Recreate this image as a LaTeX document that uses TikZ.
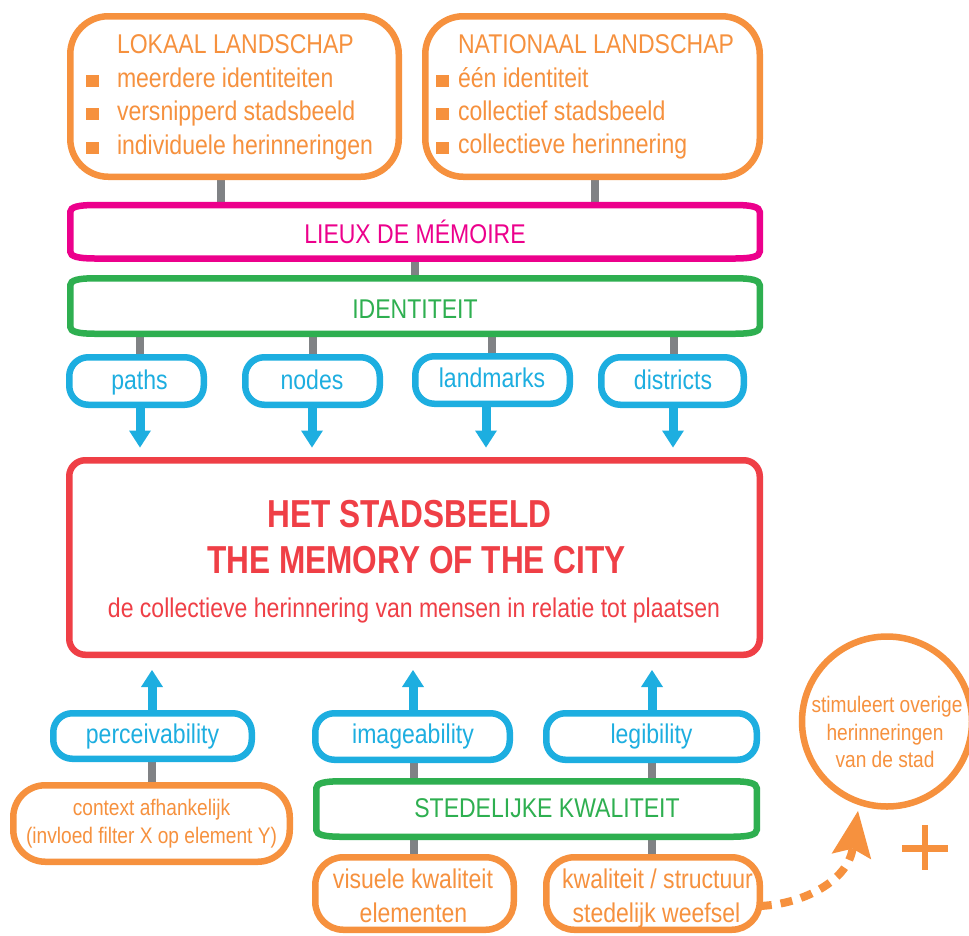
\documentclass[tikz,border=0pt]{standalone}
\usepackage{fontspec}
\setmainfont{Liberation Sans}[FakeStretch=0.85]
\newfontfamily\headfont{Liberation Sans}[FakeStretch=0.81]
\usetikzlibrary{arrows.meta,calc,backgrounds}

\definecolor{lorange}{HTML}{F6913E}
\definecolor{lmagenta}{HTML}{EC008C}
\definecolor{lgreen}{HTML}{2EAF50}
\definecolor{lblue}{HTML}{1DAEE0}
\definecolor{lred}{HTML}{EF3F46}
\definecolor{lgray}{HTML}{808285}

\tikzset{
  frame/.style={draw, line width=6.5pt, fill=white, inner sep=0pt, outer sep=0pt, rounded corners=#1},
  band/.style={draw=none, rectangle, inner sep=0pt, outer sep=0pt},
  txt/.style={inner sep=0pt, outer sep=0pt, anchor=base, font=\fontsize{27.1}{30}\selectfont},
  smalltxt/.style={inner sep=0pt, outer sep=0pt, anchor=base, font=\fontsize{22.5}{26}\selectfont},
  headtxt/.style={inner sep=0pt, outer sep=0pt, anchor=base, font=\headfont\bfseries\fontsize{39}{44}\selectfont},
  link/.style={draw=lgray, line width=8pt},
  flow/.style={draw=lblue, line width=9pt, -{Triangle[length=17pt,width=22pt,line width=0pt]}},
  dashflow/.style={draw=lorange, line width=8pt, dash pattern=on 12pt off 9pt,
    -{Stealth[length=46pt,width=40pt,inset=8pt,line width=0pt]}},
  bullet/.style={fill=lorange}
}

% frame with straight sides and softly pinched corners
\newcommand\bandframe[2]{%
  \draw[#2, line width=6.5pt, fill=white]
    ($(#1.north west)+(25,0)$) -- ($(#1.north east)+(-25,0)$)
    .. controls +(17,0) and +(0,-5) .. ($(#1.north east)+(0,7)$)
    -- ($(#1.south east)+(0,-7)$)
    .. controls +(0,5) and +(17,0) .. ($(#1.south east)+(-25,0)$)
    -- ($(#1.south west)+(25,0)$)
    .. controls +(-17,0) and +(0,5) .. ($(#1.south west)+(0,-7)$)
    -- ($(#1.north west)+(0,7)$)
    .. controls +(0,-5) and +(-17,0) .. ($(#1.north west)+(25,0)$) -- cycle;}

\begin{document}
\begin{tikzpicture}[x=1pt,y=-1pt]
\useasboundingbox (0,0) rectangle (969,935);
\clip (0,0) rectangle (969,935);

% vertical positions of the connectors
\foreach \n/\xv in {ga/221, gb/595, gc/414.5, gd/140, ge/312.5, gf/492, gg/673.5,
                    gh/151.5, gi/414, gj/652,
                    da/140, db/312, dc/486, dd/673, ua/152, ub/413, uc/652}
  \coordinate (\n) at (\xv,0);

% landscapes
\node[frame=38pt, draw=lorange, minimum width=328.5pt, minimum height=160.5pt] (lokaal) at (234.5,96.5) {};
\node[frame=38pt, draw=lorange, minimum width=334.5pt, minimum height=160.5pt] (nationaal) at (592.5,96.5) {};

% bands
\node[band, minimum width=689.5pt, minimum height=53.5pt] (lieux) at (415,231.75) {};
\node[band, minimum width=689.5pt, minimum height=55.5pt] (ident) at (415,306) {};
\bandframe{lieux}{lmagenta}
\bandframe{ident}{lgreen}

% Lynch elements
\node[frame=19pt, draw=lblue, minimum width=134.5pt, minimum height=47.5pt] (paths) at (136.5,381) {};
\node[frame=19pt, draw=lblue, minimum width=134.5pt, minimum height=47.5pt] (nodesb) at (312.5,381) {};
\node[frame=19pt, draw=lblue, minimum width=154.5pt, minimum height=47.5pt] (landm) at (492.5,380) {};
\node[frame=19pt, draw=lblue, minimum width=142.5pt, minimum height=47.5pt] (distr) at (672.5,381) {};

% central box
\node[frame=16pt, draw=lred, minimum width=690.5pt, minimum height=194.5pt] (city) at (414.5,557.5) {};

% qualities
\node[frame=19pt, draw=lblue, minimum width=198.5pt, minimum height=45.5pt] (perc) at (152.5,736) {};
\node[frame=19pt, draw=lblue, minimum width=194.5pt, minimum height=46.5pt] (image) at (412.5,736.5) {};
\node[frame=19pt, draw=lblue, minimum width=210.5pt, minimum height=46.5pt] (legib) at (651.5,736.5) {};

\node[frame=32pt, draw=lorange, minimum width=276.5pt, minimum height=76.5pt] (context) at (151.5,823.5) {};
\node[band, minimum width=440.5pt, minimum height=55.5pt] (sted) at (536.5,809) {};
\bandframe{sted}{lgreen}
\node[frame=28pt, draw=lorange, minimum width=198.5pt, minimum height=72.5pt] (visu) at (414.5,893.5) {};
\node[frame=28pt, draw=lorange, minimum width=213.5pt, minimum height=72.5pt] (kwal) at (653,893.5) {};

\node[circle, draw=lorange, line width=6.5pt, minimum size=170pt, inner sep=0pt, outer sep=0pt] (stim) at (887,721.5) {};

% texts
\node[txt, anchor=base west, text=lorange] (lokT) at (117,53) {LOKAAL LANDSCHAP};
\node[txt, anchor=base west, text=lorange] (lokA) at (117,87) {meerdere identiteiten};
\node[txt, anchor=base west, text=lorange] (lokB) at (117,120) {versnipperd stadsbeeld};
\node[txt, anchor=base west, text=lorange] (lokC) at (117,154) {individuele herinneringen};
\fill[bullet] (86,74.5) rectangle (99,87);
\fill[bullet] (86,107.5) rectangle (99,120);
\fill[bullet] (86,141.5) rectangle (99,154);

\node[txt, anchor=base west, text=lorange] (natT) at (458,53) {NATIONAAL LANDSCHAP};
\node[txt, anchor=base west, text=lorange] (natA) at (458,87) {één identiteit};
\node[txt, anchor=base west, text=lorange] (natB) at (458,120) {collectief stadsbeeld};
\node[txt, anchor=base west, text=lorange] (natC) at (458,153) {collectieve herinnering};
\fill[bullet] (436,75) rectangle (448.5,87);
\fill[bullet] (436,108) rectangle (448.5,120);
\fill[bullet] (436,141.5) rectangle (448.5,153.5);

\node[txt, text=lmagenta] (lieuxT) at (415,243) {LIEUX DE MÉMOIRE};
\node[txt, text=lgreen] (identT) at (415,318) {IDENTITEIT};

\node[txt, text=lblue] (pathsT) at (139.5,389) {paths};
\node[txt, text=lblue] (nodesT) at (312,389) {nodes};
\node[txt, text=lblue] (landmT) at (492,387) {landmarks};
\node[txt, text=lblue] (distrT) at (673,389) {districts};

\node[headtxt, text=lred] (cityA) at (409.5,527) {HET STADSBEELD};
\node[headtxt, text=lred] (cityB) at (416.5,573) {THE MEMORY OF THE CITY};
\node[txt, text=lred] (cityC) at (414,617) {de collectieve herinnering van mensen in relatie tot plaatsen};

\node[txt, text=lblue] (percT) at (152.5,743) {perceivability};
\node[txt, text=lblue] (imageT) at (413,743) {imageability};
\node[txt, text=lblue] (legibT) at (651.5,743) {legibility};

\node[smalltxt, text=lorange] (contextA) at (151.5,815) {context afhankelijk};
\node[smalltxt, text=lorange] (contextB) at (151.5,843) {(invloed filter X op element Y)};

\node[txt, text=lgreen] (stedT) at (547,817) {STEDELIJKE KWALITEIT};

\node[txt, text=lorange] (visuA) at (413,888) {visuele kwaliteit};
\node[txt, text=lorange] (visuB) at (413.5,922.5) {elementen};
\node[txt, text=lorange] (kwalA) at (657.5,888) {kwaliteit / structuur};
\node[txt, text=lorange] (kwalB) at (656.5,922) {stedelijk weefsel};

\node[smalltxt, text=lorange] (stimA) at (887,712) {stimuleert overige};
\node[smalltxt, text=lorange] (stimB) at (885,740) {herinneringen};
\node[smalltxt, text=lorange] (stimC) at (885,767) {van de stad};

% plus sign
\draw[lorange, line width=6.5pt] (902,848.3) -- (948,848.3) (925,825) -- (925,870);

% dashed arrow towards the circle
\draw[dashflow] ($(kwal.east)+(0,12.5)$) .. controls +(45,-2) and +(-10,69) .. ($(stim.center)+(-29,89.5)$);

% connectors and arrows behind the frames
\begin{scope}[on background layer]
  \fill[white] (0,0) rectangle (969,935);
  \draw[link] (lokaal.south -| ga) -- (lieux.north -| ga);
  \draw[link] (nationaal.south -| gb) -- (lieux.north -| gb);
  \draw[link] (lieux.south -| gc) -- (ident.north -| gc);
  \draw[link] (ident.south -| gd) -- (paths.north -| gd);
  \draw[link] (ident.south -| ge) -- (nodesb.north -| ge);
  \draw[link] (ident.south -| gf) -- (landm.north -| gf);
  \draw[link] (ident.south -| gg) -- (distr.north -| gg);
  \draw[link] (perc.south -| gh) -- (context.north -| gh);
  \draw[link] (image.south -| gi) -- (sted.north -| gi);
  \draw[link] (legib.south -| gj) -- (sted.north -| gj);
  \draw[link] (sted.south -| gi) -- (visu.north -| gi);
  \draw[link] (sted.south -| gj) -- (kwal.north -| gj);

  \draw[flow, shorten >=12.75pt] (paths.south -| da) -- (city.north -| da);
  \draw[flow, shorten >=12.75pt] (nodesb.south -| db) -- (city.north -| db);
  \draw[flow, shorten >=12.75pt] (landm.south -| dc) -- (city.north -| dc);
  \draw[flow, shorten >=12.75pt] (distr.south -| dd) -- (city.north -| dd);

  \draw[flow, shorten >=15.25pt] (perc.north -| ua) -- (city.south -| ua);
  \draw[flow, shorten >=15.25pt] (image.north -| ub) -- (city.south -| ub);
  \draw[flow, shorten >=15.25pt] (legib.north -| uc) -- (city.south -| uc);
\end{scope}
\end{tikzpicture}
\end{document}
